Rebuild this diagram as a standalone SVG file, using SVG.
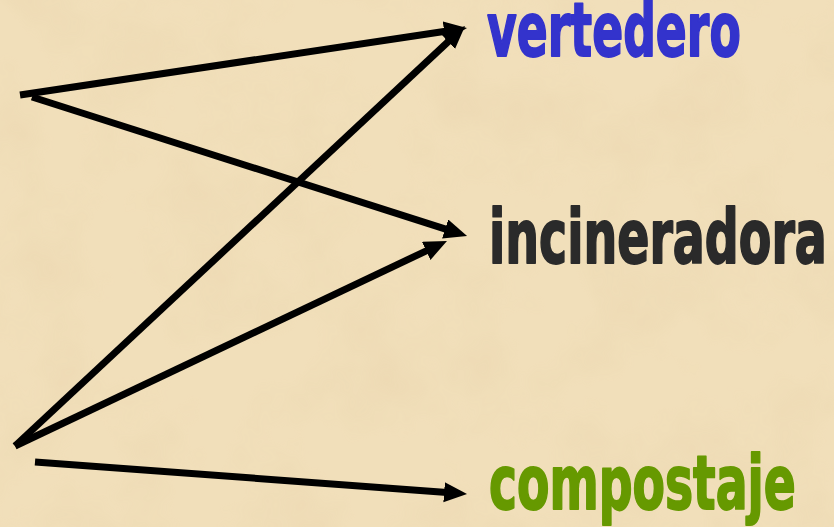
<svg xmlns="http://www.w3.org/2000/svg" width="834" height="527" viewBox="0 0 834 527">
  <style>
    .lbl { font-family: "DejaVu Sans Condensed", "DejaVu Sans", sans-serif; font-weight: bold; font-stretch: condensed; font-size: 56px; stroke-width: 1.4; stroke-linejoin: round; }
    .conn { stroke: #000; stroke-width: 7; fill: none; marker-end: url(#ah); }
  </style>
  <defs>
    <marker id="ah" markerUnits="userSpaceOnUse" markerWidth="24" markerHeight="21" refX="3" refY="10" orient="auto" viewBox="0 0 24 21">
      <path d="M0,0 L23,10 L0,20 Z" fill="#000"/>
    </marker>
    <filter id="paper" x="0" y="0" width="100%" height="100%">
      <feTurbulence type="fractalNoise" baseFrequency="0.012" numOctaves="4" seed="7" result="n"/>
      <feColorMatrix in="n" type="matrix" values="0 0 0 0 0.82  0 0 0 0 0.66  0 0 0 0 0.42  0 0 0 1.1 -0.45" result="c"/>
      <feComposite in="c" in2="SourceGraphic" operator="in"/>
    </filter>
  </defs>
  <rect width="834" height="527" fill="#F1DFBA"/>
  <rect width="834" height="527" fill="#F1DFBA" filter="url(#paper)" opacity="0.8"/>

  <g id="connectors">
    <line class="conn" x1="20" y1="95" x2="447.2" y2="31.0"/>
    <line class="conn" x1="32" y1="97" x2="448.0" y2="229.9"/>
    <line class="conn" x1="15" y1="446" x2="450.4" y2="39.6"/>
    <line class="conn" x1="15" y1="446" x2="428.9" y2="249.6"/>
    <line class="conn" x1="35" y1="462" x2="447.1" y2="492.5"/>
  </g>

  <g id="vertedero" transform="translate(487,56) scale(0.907,1.32)">
    <text class="lbl" x="0" y="0" fill="#3333CC" stroke="#3333CC">vertedero</text>
  </g>
  <g id="incineradora" transform="translate(489,263) scale(0.942,1.32)">
    <text class="lbl" x="0" y="0" fill="#2A2A2A" stroke="#2A2A2A">incineradora</text>
  </g>
  <g id="compostaje" transform="translate(489,509) scale(0.938,1.32)">
    <text class="lbl" x="0" y="0" fill="#669900" stroke="#669900">compostaje</text>
  </g>
</svg>
